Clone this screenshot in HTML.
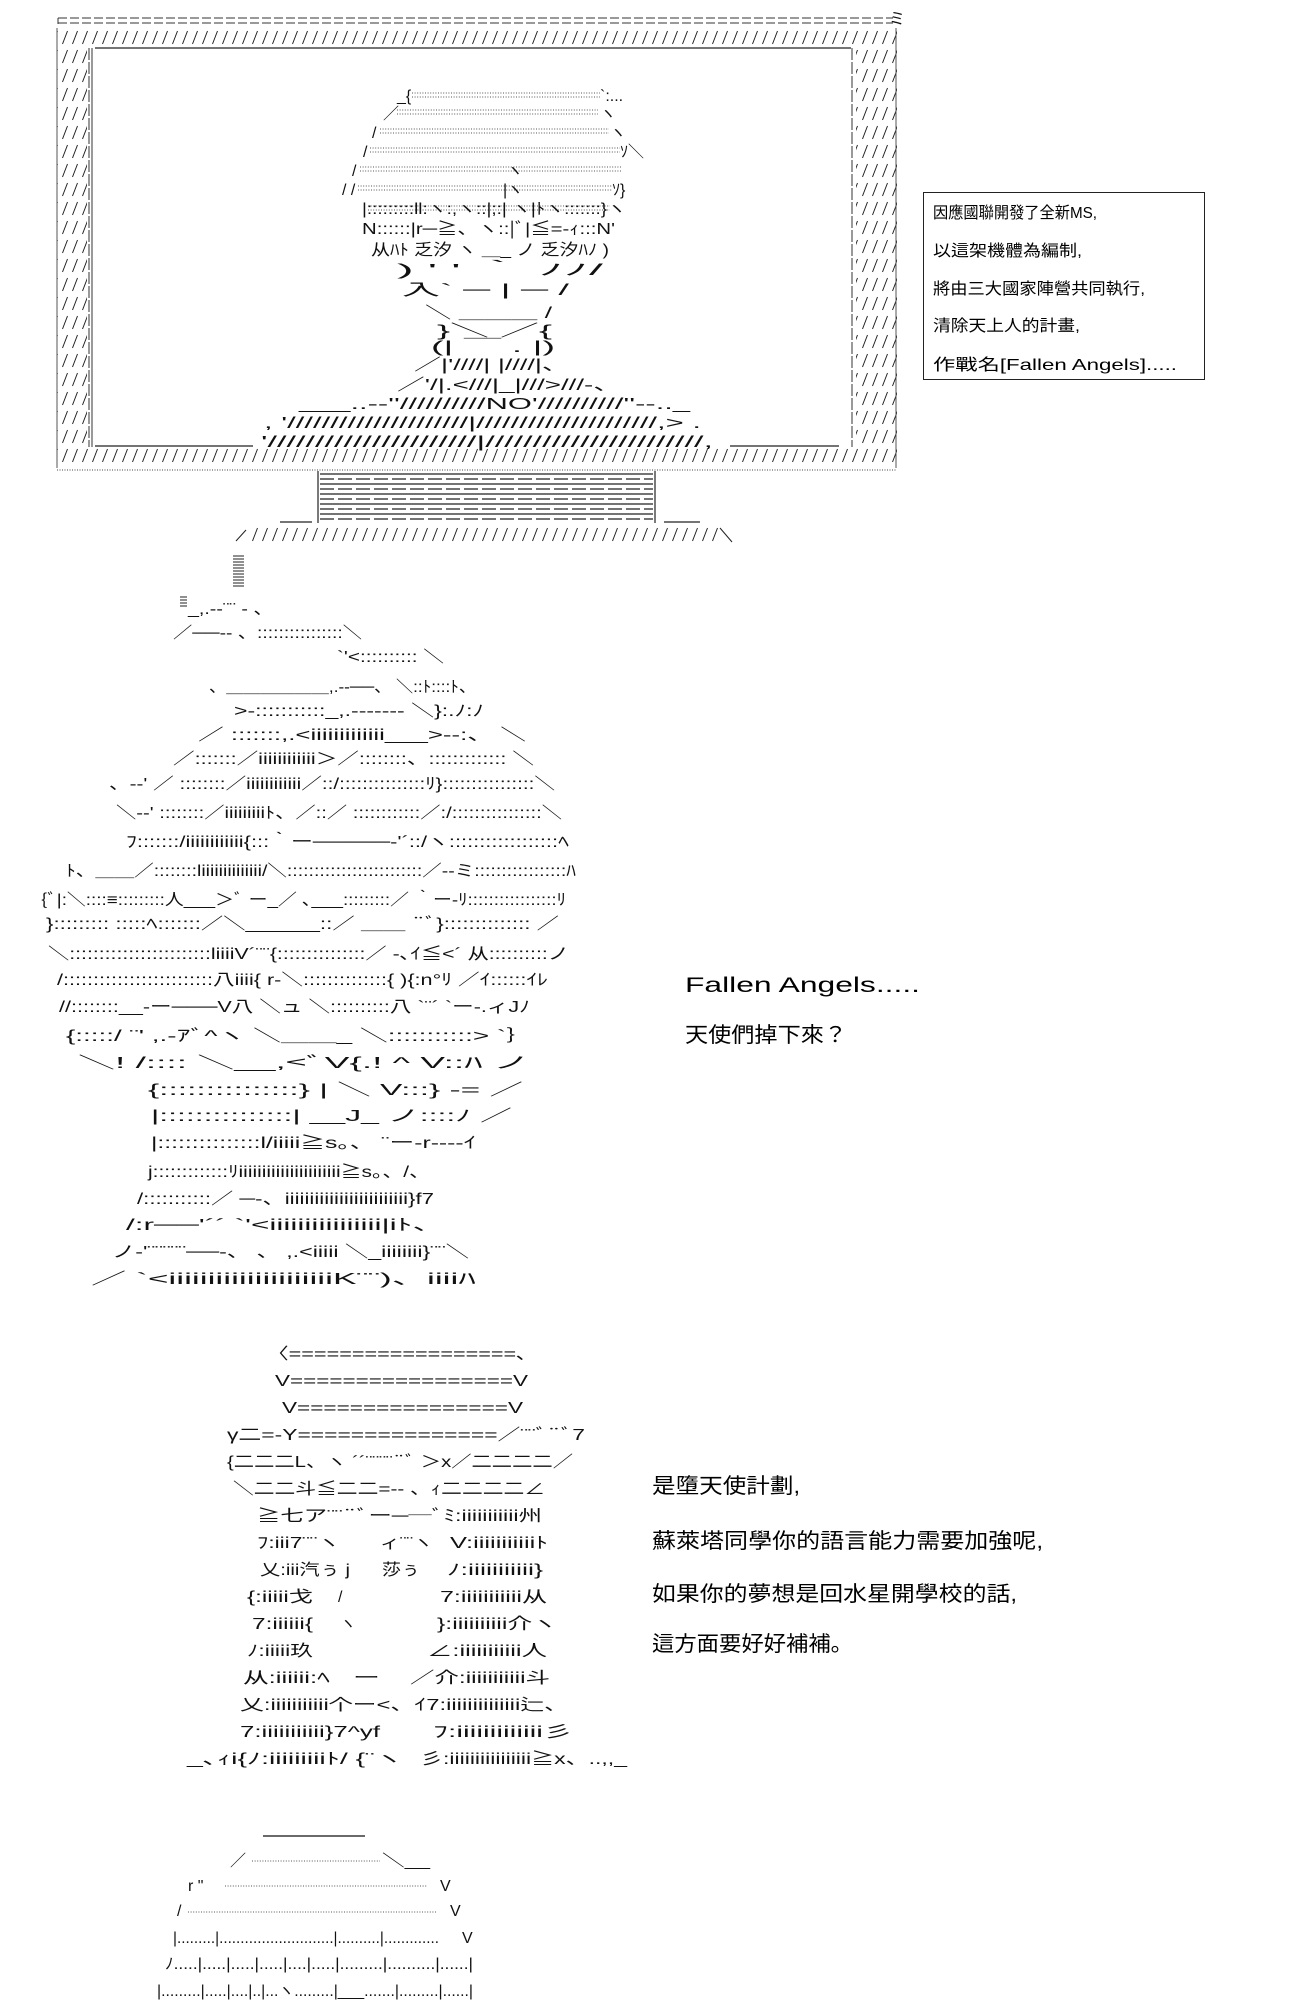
<!DOCTYPE html>
<html><head><meta charset="utf-8">
<style>
html,body{margin:0;padding:0;background:#fff;}
svg{display:block;}
text{font-family:"Liberation Sans","Noto Sans CJK JP",sans-serif;fill:#111;}
.a{font-size:16px;}
.t{font-size:16px;fill:#000;}
.b{font-size:21px;fill:#000;}
</style></head>
<body>
<svg width="1300" height="2000" viewBox="0 0 1300 2000" xmlns="http://www.w3.org/2000/svg">
<defs>
<pattern id="h" patternUnits="userSpaceOnUse" x="0" y="28" width="10" height="19">
<line x1="2.5" y1="16" x2="7.5" y2="3" stroke="#222" stroke-width="1"/>
</pattern>
<pattern id="h2" patternUnits="userSpaceOnUse" x="0" y="525" width="10" height="19">
<line x1="2.5" y1="16" x2="7.5" y2="3" stroke="#222" stroke-width="1"/>
</pattern>
</defs>
<rect width="1300" height="2000" fill="#fff"/>

<!-- monitor -->
<line x1="58" y1="18" x2="893" y2="18" stroke="#333" stroke-dasharray="9,3"/>
<line x1="58" y1="23" x2="893" y2="23" stroke="#333" stroke-dasharray="9,3"/>
<line x1="58" y1="18" x2="58" y2="24" stroke="#333"/>
<text class="a" x="889" y="24">ミ</text>
<rect x="57" y="28" width="840" height="19" fill="url(#h)"/>
<rect x="57" y="47" width="30" height="400" fill="url(#h)"/>
<rect x="856" y="47" width="41" height="400" fill="url(#h)"/>
<rect x="57" y="447" width="840" height="19" fill="url(#h)"/>
<line x1="57" y1="28" x2="57" y2="468" stroke="#555"/>
<line x1="896" y1="28" x2="896" y2="468" stroke="#555"/>
<line x1="89" y1="48" x2="89" y2="447" stroke="#333" stroke-dasharray="12,2"/>
<line x1="92" y1="48" x2="92" y2="447" stroke="#333"/>
<line x1="852" y1="48" x2="852" y2="447" stroke="#333" stroke-dasharray="12,2"/>
<line x1="95" y1="48" x2="851" y2="48" stroke="#222" stroke-width="1.3"/>
<line x1="95" y1="446" x2="253" y2="446" stroke="#222" stroke-width="1.3"/>
<line x1="730" y1="446" x2="839" y2="446" stroke="#222" stroke-width="1.3"/>
<line x1="57" y1="470" x2="896" y2="470" stroke="#444" stroke-dasharray="1,1.5"/>

<!-- person in monitor -->
<g stroke="#555" stroke-dasharray="1,1.6" stroke-width="1">
<line x1="412" y1="93" x2="600" y2="93"/><line x1="412" y1="97" x2="600" y2="97"/>
<line x1="397" y1="110" x2="598" y2="110"/><line x1="397" y1="114" x2="598" y2="114"/>
<line x1="380" y1="129" x2="609" y2="129"/><line x1="380" y1="133" x2="609" y2="133"/>
<line x1="370" y1="148" x2="620" y2="148"/><line x1="370" y1="152" x2="620" y2="152"/>
<line x1="360" y1="167" x2="621" y2="167"/><line x1="360" y1="171" x2="621" y2="171"/>
<line x1="358" y1="186" x2="612" y2="186"/><line x1="358" y1="190" x2="612" y2="190"/>
<line x1="368" y1="206" x2="610" y2="206"/><line x1="368" y1="210" x2="610" y2="210"/>
</g>
<text class="a" x="397" y="101">_{</text><text class="a" x="600" y="101">`:...</text>
<text class="a" x="383" y="119">／</text><text class="a" x="600" y="119">ヽ</text>
<text class="a" x="372" y="138">/</text><text class="a" x="610" y="138">ヽ</text>
<text class="a" x="363" y="157">/</text><text class="a" x="620" y="157">ｿ＼</text>
<text class="a" x="352" y="176">/</text><text class="a" x="507" y="176">ヽ</text>
<text class="a" x="342" y="195">/ /</text><text class="a" x="503" y="195">|ヽ</text><text class="a" x="612" y="195">ｿ}</text>
<text class="a" x="362" y="214" textLength="264" lengthAdjust="spacingAndGlyphs">|:::::::::ll:ヽ:,ヽ::|;:|  ヽ|ﾄヽ:::::::}ヽ</text>
<text class="a" x="362" y="234" textLength="253" lengthAdjust="spacingAndGlyphs">N::::::|r─≧、ヽ::|ﾞ|≦=-ｨ:::N'</text>
<text class="a" x="371" y="255" textLength="238" lengthAdjust="spacingAndGlyphs">从ﾊﾄ 乏汐 ヽ ＿_ ノ 乏汐ﾊﾉ )</text>
<text class="a" x="397" y="275" textLength="206" lengthAdjust="spacingAndGlyphs">) '    '    ｀    ﾉﾉ/</text>
<text class="a" x="402" y="295" textLength="167" lengthAdjust="spacingAndGlyphs">入`   ─   |   ─  /</text>
<text class="a" x="425" y="318" textLength="127" lengthAdjust="spacingAndGlyphs">＼   ＿＿＿   /</text>
<text class="a" x="437" y="336" textLength="115" lengthAdjust="spacingAndGlyphs">}＼          ／{</text>
<text class="a" x="431" y="352" textLength="124" lengthAdjust="spacingAndGlyphs">(|    ￣  .   |)</text>
<text class="a" x="414" y="370" textLength="155" lengthAdjust="spacingAndGlyphs">／|'////|    |////|、</text>
<text class="a" x="397" y="390" textLength="224" lengthAdjust="spacingAndGlyphs">／'/|.&lt;///|_|///&gt;///‐、</text>
<text class="a" x="299" y="409" textLength="391" lengthAdjust="spacingAndGlyphs">___..-‐''//////////NO'//////////''‐-.._</text>
<text class="a" x="264" y="428" textLength="437" lengthAdjust="spacingAndGlyphs">, '/////////////////////|/////////////////////,&gt;  .</text>
<text class="a" x="261" y="447" textLength="452" lengthAdjust="spacingAndGlyphs">'//////////////////////|///////////////////////,</text>

<!-- stand -->
<line x1="318" y1="471" x2="318" y2="523" stroke="#222" stroke-width="1.2"/>
<line x1="655" y1="471" x2="655" y2="523" stroke="#222" stroke-width="1.2"/>
<g stroke="#222" stroke-width="1.2">
<line x1="320" y1="474" x2="653" y2="474"/>
<line x1="320" y1="479" x2="653" y2="479" stroke-dasharray="14,4"/>
<line x1="320" y1="484" x2="653" y2="484"/>
<line x1="320" y1="489" x2="653" y2="489" stroke-dasharray="14,4"/>
<line x1="320" y1="494" x2="653" y2="494"/>
<line x1="320" y1="499" x2="653" y2="499" stroke-dasharray="14,4"/>
<line x1="320" y1="504" x2="653" y2="504"/>
<line x1="320" y1="509" x2="653" y2="509" stroke-dasharray="14,4"/>
<line x1="320" y1="514" x2="653" y2="514"/>
<line x1="320" y1="519" x2="653" y2="519" stroke-dasharray="14,4"/>
<line x1="280" y1="522" x2="312" y2="522"/>
<line x1="664" y1="522" x2="700" y2="522"/>
</g>
<rect x="248" y="525" width="470" height="19" fill="url(#h2)"/>
<line x1="236" y1="541" x2="246" y2="530" stroke="#222"/>
<line x1="720" y1="528" x2="732" y2="542" stroke="#222"/>

<!-- figure 2 -->
<g stroke="#222">
<line x1="233" y1="556" x2="244" y2="556"/><line x1="233" y1="559" x2="244" y2="559"/><line x1="233" y1="562" x2="244" y2="562"/><line x1="233" y1="565" x2="244" y2="565"/><line x1="233" y1="568" x2="244" y2="568"/><line x1="233" y1="571" x2="244" y2="571"/><line x1="233" y1="574" x2="244" y2="574"/><line x1="233" y1="577" x2="244" y2="577"/><line x1="233" y1="580" x2="244" y2="580"/><line x1="233" y1="583" x2="244" y2="583"/><line x1="233" y1="586" x2="244" y2="586"/>
<line x1="180" y1="597" x2="187" y2="597"/><line x1="180" y1="600" x2="187" y2="600"/><line x1="180" y1="603" x2="187" y2="603"/><line x1="180" y1="606" x2="187" y2="606"/>
</g>
<text class="a" x="188" y="614" textLength="85" lengthAdjust="spacingAndGlyphs">_,.-‐¨¨  ‐ 、</text>
<text class="a" x="173" y="638" textLength="189" lengthAdjust="spacingAndGlyphs">／──-- 、::::::::::::::::＼</text>
<text class="a" x="337" y="662" textLength="107" lengthAdjust="spacingAndGlyphs">`'&lt;::::::::::    ＼</text>
<text class="a" x="209" y="692" textLength="267" lengthAdjust="spacingAndGlyphs">、＿＿＿＿＿＿,.--──、   ＼::ﾄ::::ﾄ、</text>
<text class="a" x="234" y="716" textLength="250" lengthAdjust="spacingAndGlyphs">&gt;-:::::::::::_,.------‐  ＼}:.ﾉ:ﾉ</text>
<text class="a" x="198" y="740" textLength="328" lengthAdjust="spacingAndGlyphs">／ :::::::,.&lt;iiiiiiiiiiiii___&gt;--:、      ＼</text>
<text class="a" x="173" y="764" textLength="361" lengthAdjust="spacingAndGlyphs">／:::::::／iiiiiiiiiiii＞／::::::::、:::::::::::::  ＼</text>
<text class="a" x="109" y="789" textLength="446" lengthAdjust="spacingAndGlyphs">、-‐'  ／ ::::::::／iiiiiiiiiiii／::/:::::::::::::::ﾘ}::::::::::::::::＼</text>
<text class="a" x="116" y="818" textLength="446" lengthAdjust="spacingAndGlyphs">＼--' ::::::::／iiiiiiiiiﾄ、／::／  ::::::::::::／:/::::::::::::::::＼</text>
<text class="a" x="126" y="847" textLength="443" lengthAdjust="spacingAndGlyphs">ﾌ:::::::/iiiiiiiiiiii{:::｀ー─────‐'´::/ヽ::::::::::::::::::ﾍ</text>
<text class="a" x="66" y="876" textLength="510" lengthAdjust="spacingAndGlyphs">ﾄ、＿＿／::::::::liiiiiiiiiiiiii/＼:::::::::::::::::::::::::／--ミ:::::::::::::::::ﾊ</text>
<text class="a" x="41" y="905" textLength="525" lengthAdjust="spacingAndGlyphs">{ﾞ|:＼::::≡:::::::::人___＞ﾞ  ー_／ ､___:::::::::／ ｀ー-ﾘ:::::::::::::::::ﾘ</text>
<text class="a" x="46" y="929" textLength="513" lengthAdjust="spacingAndGlyphs">}:::::::::    :::::ﾍ:::::::／＼______::／   ＿＿  ¨ﾞ}:::::::::::::: ／</text>
<text class="a" x="48" y="959" textLength="521" lengthAdjust="spacingAndGlyphs">＼::::::::::::::::::::::::liiiiV´¨¨{:::::::::::::::／  ‐､ｲ≦&lt;´  从::::::::::ノ</text>
<text class="a" x="57" y="985" textLength="491" lengthAdjust="spacingAndGlyphs">/:::::::::::::::::::::::::八iiii{   r-＼::::::::::::::{  ){:n°ﾘ    ／ｲ::::::ｲﾚ</text>
<text class="a" x="59" y="1012" textLength="471" lengthAdjust="spacingAndGlyphs">//::::::::__-ー───V八   ＼ュ  ＼::::::::::八  `¨´     `ー-.ィJﾉ</text>
<text class="a" x="66" y="1041" textLength="468" lengthAdjust="spacingAndGlyphs">{:::::/  ¨'     ,.-ｱﾞ^ヽ  ＼＿＿_  ＼:::::::::::&gt;                  `｝</text>
<text class="a" x="78" y="1068" textLength="452" lengthAdjust="spacingAndGlyphs">＼!        /::::  ＼__,&lt;ﾞV{.!   ^     V::ﾊ                          ノ</text>
<text class="a" x="148" y="1095" textLength="375" lengthAdjust="spacingAndGlyphs">{:::::::::::::::}      |        ＼   V:::}                -=      ／</text>
<text class="a" x="151" y="1121" textLength="361" lengthAdjust="spacingAndGlyphs">|:::::::::::::::|  __J_        ノ::::ﾉ                   ／</text>
<text class="a" x="151" y="1148" textLength="325" lengthAdjust="spacingAndGlyphs">|:::::::::::::::l/iiiii≧s。、       ¨ー-r----ｲ</text>
<text class="a" x="148" y="1177" textLength="282" lengthAdjust="spacingAndGlyphs">j:::::::::::::ﾘiiiiiiiiiiiiiiiiiiiiii≧s。、/、</text>
<text class="a" x="137" y="1204" textLength="297" lengthAdjust="spacingAndGlyphs">/:::::::::::／ ─-、iiiiiiiiiiiiiiiiiiiiiiiii}f7</text>
<text class="a" x="126" y="1230" textLength="318" lengthAdjust="spacingAndGlyphs">/:r──'´´              `'&lt;iiiiiiiiiiiiiiii|iﾄ、</text>
<text class="a" x="112" y="1257" textLength="357" lengthAdjust="spacingAndGlyphs">ノ-'¨¨¨¨¨──-、 、     ,.&lt;iiiii ＼_iiiiiiii}¨¨＼</text>
<text class="a" x="91" y="1284" textLength="385" lengthAdjust="spacingAndGlyphs">／                       `&lt;iiiiiiiiiiiiiiiiiiiiiK¨¨)、iiiiﾊ</text>

<!-- figure 3 -->
<text class="a" x="267" y="1359" textLength="260" lengthAdjust="spacingAndGlyphs">〈==================､</text>
<text class="a" x="275" y="1386" textLength="253" lengthAdjust="spacingAndGlyphs">V=================V</text>
<text class="a" x="282" y="1413" textLength="241" lengthAdjust="spacingAndGlyphs">V================V</text>
<text class="a" x="227" y="1440" textLength="358" lengthAdjust="spacingAndGlyphs">γ二=-Y===============／¨¨ﾞ¨ﾞ7</text>
<text class="a" x="227" y="1467" textLength="346" lengthAdjust="spacingAndGlyphs">{二二二L、ヽ ´´¨¨¨¨¨ﾞ ＞x／二二二二／</text>
<text class="a" x="233" y="1494" textLength="312" lengthAdjust="spacingAndGlyphs">＼二二斗≦二二=--  、ｨ二二二二∠</text>
<text class="a" x="257" y="1521" textLength="285" lengthAdjust="spacingAndGlyphs">≧七ア¨¨¨ﾞー──ﾞﾐ:iiiiiiiiiii州</text>
<text class="a" x="257" y="1548" textLength="83" lengthAdjust="spacingAndGlyphs">ﾌ:iii7¨¨ヽ</text>
<text class="a" x="380" y="1548" textLength="53" lengthAdjust="spacingAndGlyphs">ィ¨¨ヽ</text>
<text class="a" x="450" y="1548" textLength="98" lengthAdjust="spacingAndGlyphs">V:iiiiiiiiiiiﾄ</text>
<text class="a" x="260" y="1575" textLength="90" lengthAdjust="spacingAndGlyphs">乂:iii汽ぅ j</text>
<text class="a" x="382" y="1575" textLength="38" lengthAdjust="spacingAndGlyphs">莎ぅ</text>
<text class="a" x="447" y="1575" textLength="96" lengthAdjust="spacingAndGlyphs">ﾉ:iiiiiiiiiii}</text>
<text class="a" x="247" y="1602" textLength="66" lengthAdjust="spacingAndGlyphs">{:iiiii戈</text>
<text class="a" x="338" y="1602">/</text>
<text class="a" x="440" y="1602" textLength="107" lengthAdjust="spacingAndGlyphs">7:iiiiiiiiiii从</text>
<text class="a" x="252" y="1629" textLength="61" lengthAdjust="spacingAndGlyphs">7:iiiiii{</text>
<text class="a" x="340" y="1629">ヽ</text>
<text class="a" x="437" y="1629" textLength="120" lengthAdjust="spacingAndGlyphs">}:iiiiiiiiii介ヽ</text>
<text class="a" x="247" y="1656" textLength="66" lengthAdjust="spacingAndGlyphs">ﾉ:iiiii玖</text>
<text class="a" x="427" y="1656" textLength="120" lengthAdjust="spacingAndGlyphs">∠:iiiiiiiiiii人</text>
<text class="a" x="243" y="1683" textLength="87" lengthAdjust="spacingAndGlyphs">从:iiiiii:ﾍ</text>
<text class="a" x="353" y="1683" textLength="27" lengthAdjust="spacingAndGlyphs">ー</text>
<text class="a" x="410" y="1683" textLength="140" lengthAdjust="spacingAndGlyphs">／介:iiiiiiiiiii斗</text>
<text class="a" x="240" y="1710" textLength="328" lengthAdjust="spacingAndGlyphs">乂:iiiiiiiiiii个ー&lt;、ｲ7:iiiiiiiiiiiiii辷、</text>
<text class="a" x="240" y="1737" textLength="140" lengthAdjust="spacingAndGlyphs">7:iiiiiiiiiii}7^yf</text>
<text class="a" x="433" y="1737" textLength="140" lengthAdjust="spacingAndGlyphs">ﾌ:iiiiiiiiiiiii彡</text>
<text class="a" x="187" y="1764" textLength="216" lengthAdjust="spacingAndGlyphs">_､ｨi{ﾉ:iiiiiiiiiﾄ/ {¨ヽ</text>
<text class="a" x="420" y="1764" textLength="207" lengthAdjust="spacingAndGlyphs">彡:iiiiiiiiiiiiiiii≧x、..,,_</text>

<!-- figure 4 -->
<line x1="263" y1="1836" x2="365" y2="1836" stroke="#111" stroke-width="1.3"/>
<text class="a" x="230" y="1866">／</text>
<line x1="252" y1="1861" x2="380" y2="1861" stroke="#555" stroke-dasharray="1,1.6"/>
<text class="a" x="382" y="1866" textLength="48" lengthAdjust="spacingAndGlyphs">＼__</text>
<text class="a" x="188" y="1891">r  "</text>
<line x1="225" y1="1886" x2="427" y2="1886" stroke="#555" stroke-dasharray="1,1.6"/>
<text class="a" x="440" y="1891">V</text>
<text class="a" x="177" y="1916">/</text>
<line x1="188" y1="1912" x2="437" y2="1912" stroke="#555" stroke-dasharray="1,1.6"/>
<text class="a" x="450" y="1916">V</text>
<text class="a" x="173" y="1943" textLength="266" lengthAdjust="spacingAndGlyphs">|.........|...........................|..........|.............</text>
<text class="a" x="462" y="1943">V</text>
<text class="a" x="165" y="1969" textLength="308" lengthAdjust="spacingAndGlyphs">ﾉ.....|.....|.....|.....|....|.....|.........|..........|......|</text>
<text class="a" x="157" y="1996" textLength="316" lengthAdjust="spacingAndGlyphs">|.........|.....|....|..|...ヽ.........|___.......|.........|......|</text>

<!-- right info box -->
<rect x="923.5" y="192.5" width="281" height="187" fill="none" stroke="#222" stroke-width="1"/>
<text class="t" x="933" y="218" textLength="164" lengthAdjust="spacingAndGlyphs">因應國聯開發了全新MS,</text>
<text class="t" x="933" y="256" textLength="149" lengthAdjust="spacingAndGlyphs">以這架機體為編制,</text>
<text class="t" x="933" y="294" textLength="212" lengthAdjust="spacingAndGlyphs">將由三大國家陣營共同執行,</text>
<text class="t" x="933" y="331" textLength="147" lengthAdjust="spacingAndGlyphs">清除天上人的計畫,</text>
<text class="t" x="933" y="370" textLength="244" lengthAdjust="spacingAndGlyphs">作戰名[Fallen  Angels].....</text>

<!-- side texts -->
<text class="b" x="685" y="992" textLength="235" lengthAdjust="spacingAndGlyphs">Fallen  Angels.....</text>
<text class="b" x="685" y="1042" textLength="162" lengthAdjust="spacingAndGlyphs">天使們掉下來？</text>
<text class="b" x="652" y="1493" textLength="148" lengthAdjust="spacingAndGlyphs">是墮天使計劃,</text>
<text class="b" x="652" y="1548" textLength="391" lengthAdjust="spacingAndGlyphs">蘇萊塔同學你的語言能力需要加強呢,</text>
<text class="b" x="652" y="1601" textLength="365" lengthAdjust="spacingAndGlyphs">如果你的夢想是回水星開學校的話,</text>
<text class="b" x="652" y="1651" textLength="201" lengthAdjust="spacingAndGlyphs">這方面要好好補補。</text>
</svg>
</body></html>
